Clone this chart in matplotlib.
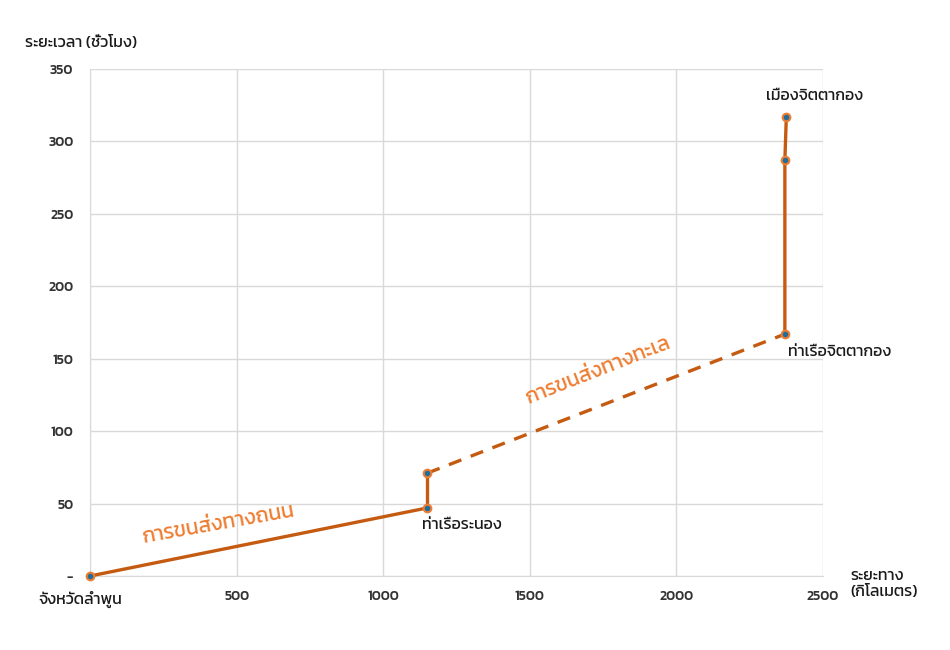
import matplotlib
matplotlib.use("Agg")
import matplotlib.pyplot as plt
from matplotlib import font_manager
from matplotlib.ft2font import FT2Font

# ---- data ----
distance_km = [0, 1150, 1150, 2370, 2370, 2375]
time_hr = [0, 47, 71, 167, 287, 317]
x_ticks = [0, 500, 1000, 1500, 2000, 2500]
x_tick_labels = ["", "500", "1000", "1500", "2000", "2500"]
y_ticks = [0, 50, 100, 150, 200, 250, 300, 350]
y_tick_labels = ["-", "50", "100", "150", "200", "250", "300", "350"]
place_labels = ["จังหวัดลำพูน", "ท่าเรือระนอง", "ท่าเรือจิตตากอง", "เมืองจิตตากอง"]
mode_labels = ["การขนส่งทางถนน", "การขนส่งทางทะเล"]
y_title = "ระยะเวลา (ชั่วโมง)"
x_title = "ระยะทาง\n(กิโลเมตร)"

# ---- pick a font with Thai glyphs ----
found = set()
for f in font_manager.fontManager.ttflist:
    try:
        cm = FT2Font(f.fname).get_charmap()
        if 0x0E01 in cm and 0x0E32 in cm:
            found.add(f.name)
    except Exception:
        pass
thai_font = None
for p in ["Kanit", "Prompt", "Noto Sans Thai", "Sarabun", "Loma", "Garuda"]:
    if p in found:
        thai_font = p
        break
if thai_font is None and found:
    thai_font = sorted(found)[0]
plt.rcParams["font.family"] = ([thai_font] if thai_font else []) + ["DejaVu Sans"]

line_color = "#C55A11"
text_orange = "#ED7D31"
grid_color = "#D9D9D9"
txt_color = "#1A1A1A"

fig = plt.figure(figsize=(9.5, 6.5), dpi=100)
ax = fig.add_axes([0.0947, 0.1138, 0.8663 - 0.0947, 0.8938 - 0.1138])

lw = 2.4
ax.plot(distance_km[:2], time_hr[:2], color=line_color, lw=lw, zorder=3, clip_on=False)
ax.plot(distance_km[1:3], time_hr[1:3], color=line_color, lw=lw, zorder=3)
ax.plot(distance_km[2:4], time_hr[2:4], color=line_color, lw=lw, ls=(0, (4, 3)), zorder=3)
ax.plot(distance_km[3:], time_hr[3:], color=line_color, lw=lw, zorder=3)
ax.plot(distance_km, time_hr, ls="none", marker="o", ms=5.5, mfc="#1F6E9C",
        mec="#ED7D31", mew=1.5, zorder=4, clip_on=False)

ax.set_xlim(0, 2500)
ax.set_ylim(0, 350)
ax.set_xticks(x_ticks)
ax.set_xticklabels(x_tick_labels)
ax.set_yticks(y_ticks)
ax.set_yticklabels(y_tick_labels)
ax.tick_params(length=0, labelsize=10, pad=12)
ax.tick_params(axis="x", pad=10)
for lab in ax.get_xticklabels() + ax.get_yticklabels():
    lab.set_fontweight("medium")
    lab.set_color("#333333")
ax.grid(True, color=grid_color, lw=1)
ax.set_axisbelow(True)
for s in ["top", "right"]:
    ax.spines[s].set_visible(False)
ax.spines["left"].set_color(grid_color)
ax.spines["bottom"].set_color(grid_color)

# place labels
fs = 11.5
ax.annotate(place_labels[0], (distance_km[0], time_hr[0]), xytext=(-7, -17),
            textcoords="offset points", fontsize=fs, color=txt_color, ha="center", va="center")
ax.annotate(place_labels[1], (distance_km[1], time_hr[1]), xytext=(-4, -12),
            textcoords="offset points", fontsize=fs, color=txt_color, ha="left", va="center")
ax.annotate(place_labels[2], (distance_km[3], time_hr[3]), xytext=(2, -13),
            textcoords="offset points", fontsize=fs, color=txt_color, ha="left", va="center")
ax.annotate(place_labels[3], (distance_km[5], time_hr[5]), xytext=(-15, 15),
            textcoords="offset points", fontsize=fs, color=txt_color, ha="left", va="center")

# mode labels
ax.text(185, 20, mode_labels[0], fontsize=15, color=text_orange, rotation=10,
        ha="left", va="bottom", rotation_mode="anchor")
ax.text(1500, 116, mode_labels[1], fontsize=15, color=text_orange, rotation=21.5,
        ha="left", va="bottom", rotation_mode="anchor")

fig.text(25 / 950, 1 - 43 / 650, y_title, fontsize=fs, color=txt_color, ha="left", va="center")
fig.text(850 / 950, 1 - 584 / 650, x_title, fontsize=fs, color=txt_color, ha="left", va="center",
         linespacing=1.25)

fig.savefig("out.png", dpi=100)
